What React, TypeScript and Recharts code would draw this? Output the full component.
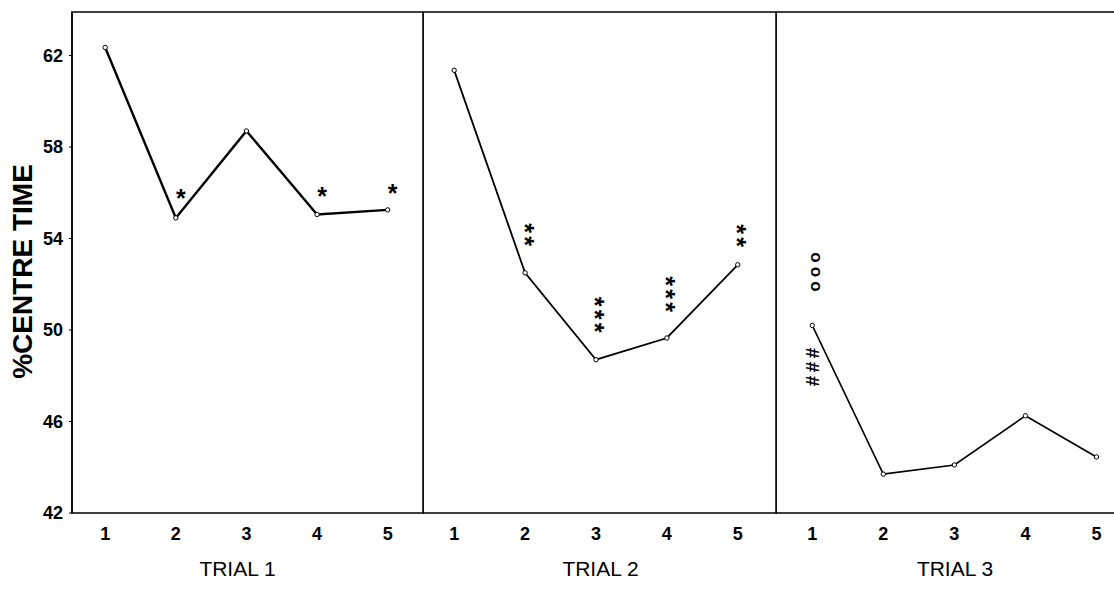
import { LineChart, Line, XAxis, YAxis, ReferenceArea, ReferenceDot, Label } from "recharts";

const trials = [1, 2, 3, 4, 5];
const trial1Values = [62.35, 54.9, 58.7, 55.05, 55.25];
const trial2Values = [61.35, 52.5, 48.7, 49.65, 52.85];
const trial3Values = [50.2, 43.7, 44.1, 46.25, 44.45];
const panelTitles = ["TRIAL 1", "TRIAL 2", "TRIAL 3"];
const yTicks = [42, 46, 50, 54, 58, 62];
const yDomain: [number, number] = [42, 63.9];
const yLabel = "%CENTRE TIME";

// significance markers: symbol repeated `count` times in a vertical stack
const trial1Marks = [
  { trial: 2, value: 56.0, symbol: "*", count: 1 },
  { trial: 4, value: 56.1, symbol: "*", count: 1 },
  { trial: 5, value: 56.25, symbol: "*", count: 1 },
];
const trial2Marks = [
  { trial: 2, value: 54.1, symbol: "*", count: 2 },
  { trial: 3, value: 50.6, symbol: "*", count: 3 },
  { trial: 4, value: 51.5, symbol: "*", count: 3 },
  { trial: 5, value: 54.05, symbol: "*", count: 2 },
];
const trial3Marks = [
  { trial: 1, value: 52.45, symbol: "o", count: 3 },
  { trial: 1, value: 48.3, symbol: "#", count: 3 },
];

const FONT = "'Liberation Sans', Arial, sans-serif";

// size, spacing between glyph centres, glyph centre above baseline (em), x nudge
const glyphStyle: Record<string, { size: number; gap: number; shift: number; dx: number; advance: number }> = {
  "*": { size: 25, gap: 13, shift: 0.58, dx: 5, advance: 0.389 },
  o: { size: 17, gap: 14.5, shift: 0.27, dx: 3, advance: 0.611 },
  "#": { size: 19, gap: 14, shift: 0.36, dx: 1, advance: 0.556 },
};

const panels = [
  { values: trial1Values, marks: trial1Marks, left: 0, width: 424, yAxisWidth: 72, xDomain: [0.53, 5.5], lineWidth: 2.4, titleDx: -10, marginRight: 1 },
  { values: trial2Values, marks: trial2Marks, left: 423, width: 354, yAxisWidth: 0, xDomain: [0.56, 5.54], lineWidth: 1.8, titleDx: 1, marginRight: 1 },
  { values: trial3Values, marks: trial3Marks, left: 776, width: 356, yAxisWidth: 0, xDomain: [0.49, 5.5], lineWidth: 1.6, titleDx: 1, marginRight: 0 },
];

const MarkStack = ({ cx, cy, symbol, count }: any) => {
  const g = glyphStyle[symbol];
  const x = cx + g.dx;
  const text = symbol.repeat(count);
  if (count === 1) {
    return (
      <text x={x} y={cy + g.shift * g.size} textAnchor="middle" fontSize={g.size}
        fontWeight="bold" fontFamily={FONT} fill="#000">
        {text}
      </text>
    );
  }
  // one string turned on its side, so the glyphs run down the page
  const spacing = g.gap - g.advance * g.size;
  return (
    <text
      x={x}
      y={cy + g.shift * g.size}
      transform={`rotate(90, ${x}, ${cy})`}
      textAnchor="middle"
      fontSize={g.size}
      fontWeight="bold"
      fontFamily={FONT}
      letterSpacing={spacing}
      fill="#000"
    >
      {text}
    </text>
  );
};

const Panel = ({ index }: { index: number }) => {
  const p = panels[index];
  const data = trials.map((t, i) => ({ trial: t, value: p.values[i] }));
  return (
    <div style={{ position: "absolute", left: p.left, top: 0 }}>
      <LineChart
        width={p.width}
        height={589}
        data={data}
        margin={{ top: 12, right: p.marginRight, bottom: 16, left: 0 }}
      >
        <XAxis
          dataKey="trial"
          type="number"
          domain={p.xDomain}
          ticks={trials}
          allowDataOverflow
          axisLine={false}
          tickLine={false}
          tickSize={8}
          tickMargin={6}
          height={60}
          tick={{ fill: "#000", fontSize: 18, fontWeight: "bold", fontFamily: FONT }}
        >
          <Label
            content={({ viewBox }: any) => (
              <text
                x={viewBox.x + viewBox.width / 2 + p.titleDx}
                y={viewBox.y + 55}
                textAnchor="middle"
                dominantBaseline="central"
                fontSize={21}
                fontFamily={FONT}
                fill="#000"
              >
                {panelTitles[index]}
              </text>
            )}
          />
        </XAxis>
        <YAxis
          type="number"
          domain={yDomain}
          ticks={yTicks}
          allowDataOverflow
          width={p.yAxisWidth}
          axisLine={{ stroke: "#000", strokeWidth: 1.5 }}
          tickLine={{ stroke: "#000" }}
          tickSize={3}
          tickMargin={6}
          tickFormatter={(v: number) => (index === 0 ? String(v) : "")}
          tick={{ fill: "#000", fontSize: 18, fontWeight: "bold", fontFamily: FONT }}
        >
          {index === 0 && (
            <Label
              content={({ viewBox }: any) => {
                const x = 22;
                const y = viewBox.y + viewBox.height / 2 + 9;
                return (
                  <text
                    x={x}
                    y={y}
                    transform={`rotate(-90, ${x}, ${y})`}
                    textAnchor="middle"
                    dominantBaseline="central"
                    fontSize={28}
                    fontWeight="bold"
                    fontFamily={FONT}
                    fill="#000"
                  >
                    {yLabel}
                  </text>
                );
              }}
            />
          )}
        </YAxis>
        <ReferenceArea
          x1={p.xDomain[0]}
          x2={p.xDomain[1]}
          y1={yDomain[0]}
          y2={yDomain[1]}
          fill="none"
          fillOpacity={0}
          stroke="#000"
          strokeWidth={1.5}
          ifOverflow="visible"
        />
        <Line
          dataKey="value"
          stroke="#000"
          strokeWidth={p.lineWidth}
          dot={{ r: 2.2, fill: "#fff", stroke: "#000", strokeWidth: 1 }}
          isAnimationActive={false}
        />
        {p.marks.map((m, i) => (
          <ReferenceDot
            key={i}
            x={m.trial}
            y={m.value}
            r={1}
            ifOverflow="visible"
            shape={(props: any) => (
              <MarkStack cx={props.cx} cy={props.cy} symbol={m.symbol} count={m.count} />
            )}
          />
        ))}
      </LineChart>
    </div>
  );
};

export default function App() {
  return (
    <div
      style={{
        position: "absolute",
        left: 0,
        top: 0,
        width: 1114,
        height: 589,
        overflow: "hidden",
        background: "#fff",
      }}
    >
      <Panel index={0} />
      <Panel index={1} />
      <Panel index={2} />
    </div>
  );
}
